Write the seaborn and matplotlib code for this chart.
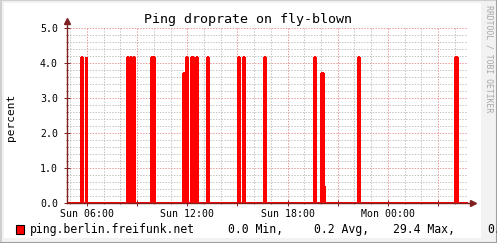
import matplotlib
matplotlib.use("Agg")
import matplotlib.pyplot as plt
import seaborn as sns
import pandas as pd
from matplotlib.patches import Rectangle
from matplotlib.lines import Line2D
from matplotlib.ticker import FixedLocator, MultipleLocator

sns.set_theme(style="white")
plt.rcParams['font.family'] = ['DejaVu Sans Mono', 'DejaVu Sans']

# ---------------- data ----------------
title = "Ping droprate on fly-blown"
y_label = "percent"
series_name = "ping.berlin.freifunk.net"
legend_stats = ["0.0 Min,", "0.2 Avg,", "29.4 Max,", "0."]
watermark = "RRDTOOL / TOBI OETIKER"

x_start = "Sun 04:48"
x_end = "Mon 04:48"
x_major_times = ["Sun 06:00", "Sun 09:00", "Sun 12:00", "Sun 15:00",
                 "Sun 18:00", "Sun 21:00", "Mon 00:00", "Mon 03:00"]
x_tick_labels = ["Sun 06:00", "Sun 12:00", "Sun 18:00", "Mon 00:00"]
y_ticks = [0.0, 1.0, 2.0, 3.0, 4.0, 5.0]
y_tick_labels = ["0.0", "1.0", "2.0", "3.0", "4.0", "5.0"]

# drop-rate spikes: rise time, fall time, peak, residual level, end of residual
spike_rise = ["Sun 05:37", "Sun 05:55", "Sun 08:22", "Sun 08:33", "Sun 08:44",
              "Sun 09:51", "Sun 11:44", "Sun 11:55", "Sun 12:13", "Sun 12:31",
              "Sun 13:10", "Sun 15:02", "Sun 15:20", "Sun 16:35", "Sun 19:35",
              "Sun 20:01", "Sun 22:14", "Mon 04:03"]
spike_fall = ["Sun 05:43", "Sun 05:58", "Sun 08:26", "Sun 08:37", "Sun 08:47",
              "Sun 10:02", "Sun 11:47", "Sun 11:58", "Sun 12:20", "Sun 12:34",
              "Sun 13:14", "Sun 15:05", "Sun 15:23", "Sun 16:39", "Sun 19:39",
              "Sun 20:07", "Sun 22:17", "Mon 04:07"]
spike_peak = [4.17, 4.17, 4.17, 4.17, 4.17,
              4.17, 3.70, 4.17, 4.17, 4.17,
              4.17, 4.17, 4.17, 4.17, 4.17,
              3.70, 4.17, 4.17]
spike_tail = [0, 0, 0, 0, 0,
              0, 0.5, 0, 0, 0,
              0, 0, 0, 0, 0,
              0.5, 0, 0]
spike_tail_end = ["Sun 05:43", "Sun 05:58", "Sun 08:26", "Sun 08:37", "Sun 08:47",
                  "Sun 10:02", "Sun 11:51", "Sun 11:58", "Sun 12:20", "Sun 12:34",
                  "Sun 13:14", "Sun 15:05", "Sun 15:23", "Sun 16:39", "Sun 19:39",
                  "Sun 20:10", "Sun 22:17", "Mon 04:07"]


def to_hours(s):
    day, hm = s.split()
    h, m = hm.split(":")
    return (0 if day == "Sun" else 24) + int(h) + int(m) / 60.0


# build the step outline of the series
xs, ys = [to_hours(x_start)], [0.0]
for r, f, p, t, te in zip(spike_rise, spike_fall, spike_peak, spike_tail, spike_tail_end):
    xs += [to_hours(r), to_hours(r), to_hours(f), to_hours(f), to_hours(te), to_hours(te)]
    ys += [0.0, p, p, t, t, 0.0]
xs.append(to_hours(x_end))
ys.append(0.0)
df = pd.DataFrame({"time": xs, "percent": ys})

# ---------------- figure ----------------
W, H = 497, 243
fig = plt.figure(figsize=(W / 100, H / 100), dpi=100)
fig.patch.set_facecolor("#F2F2F2")


def px(x, y):
    return x / W, 1 - y / H


# white background and 3D shade border
fig.patches.append(Rectangle((4 / W, 1 - 238 / H), 477 / W, 235 / H,
                             transform=fig.transFigure, facecolor="white",
                             edgecolor="none", zorder=-5))
fig.lines.append(Line2D([0.5 / W, 0.5 / W], [0, 1], transform=fig.transFigure,
                        color="#CFCFCF", lw=1.5, zorder=-4))
fig.lines.append(Line2D([0, 1], [1 - 0.5 / H, 1 - 0.5 / H], transform=fig.transFigure,
                        color="#CFCFCF", lw=1.5, zorder=-4))
fig.lines.append(Line2D([1 - 0.5 / W, 1 - 0.5 / W], [0, 1], transform=fig.transFigure,
                        color="#9E9E9E", lw=1.5, zorder=-4))
fig.lines.append(Line2D([0, 1], [0.5 / H, 0.5 / H], transform=fig.transFigure,
                        color="#9E9E9E", lw=1.5, zorder=-4))

ax = fig.add_axes([67 / W, 40 / H, 401 / W, 175 / H])
ax.set_zorder(5)
ax.set_facecolor("none")
ax.patch.set_alpha(0)

axis_col = "#7F1F1F"
minor_col = "#C4C4C4"
major_col = "#E89A9A"

sns.lineplot(data=df, x="time", y="percent", ax=ax, sort=False, estimator=None,
             color="#FF0000", lw=0.75, antialiased=False, zorder=3)

ax.set_xlim(to_hours(x_start), to_hours(x_end))
ax.set_ylim(0, 5)

major_x = [to_hours(t) for t in x_major_times]
ax.xaxis.set_major_locator(FixedLocator(major_x))
ax.set_xticklabels([t if t in x_tick_labels else "" for t in x_major_times])
ax.xaxis.set_minor_locator(MultipleLocator(1))
ax.yaxis.set_major_locator(FixedLocator(y_ticks))
ax.set_yticklabels(y_tick_labels)
ax.yaxis.set_minor_locator(MultipleLocator(0.2))

ax.grid(which="minor", color=minor_col, lw=0.72, linestyle=(0, (1.4, 1.4)), zorder=1)
ax.grid(which="major", color=major_col, lw=0.72, linestyle=(0, (1.4, 1.4)), zorder=1)
ax.set_axisbelow(True)

for s in ["top", "right"]:
    ax.spines[s].set_visible(False)
for s in ["left", "bottom"]:
    ax.spines[s].set_color(axis_col)
    ax.spines[s].set_linewidth(1.0)
    ax.spines[s].set_zorder(5)

ax.tick_params(axis="both", which="major", direction="inout", length=5, width=0.7,
               color=axis_col, labelsize=7.1, labelcolor="black")
ax.tick_params(axis="both", which="minor", direction="inout", length=2, width=0.5,
               color=axis_col)
ax.tick_params(axis="x", which="major", pad=2)
ax.tick_params(axis="y", which="major", pad=4)
ax.tick_params(bottom=True, left=True, which="both")

ax.set_xlabel("")
ax.set_ylabel("")

# arrows
ax.plot([0, 0], [1, 1.04], transform=ax.transAxes, color=axis_col, lw=1.0, clip_on=False)
ax.plot([0], [1.04], transform=ax.transAxes, marker="^", ms=5, color=axis_col,
        clip_on=False, mec=axis_col)
ax.plot([1, 1.012], [0, 0], transform=ax.transAxes, color=axis_col, lw=1.0, clip_on=False)
ax.plot([1.012], [0], transform=ax.transAxes, marker=">", ms=5, color=axis_col,
        clip_on=False, mec=axis_col)

# texts
fig.text(*px(248, 19), title, ha="center", va="center", fontsize=9.6, color="black")
fig.text(*px(11, 117), y_label, ha="center", va="center", rotation=90,
         fontsize=8, color="black")
fig.text(*px(489, 5), watermark, ha="center", va="top", rotation=270,
         fontsize=5.9, color="#A8A8A8")

fig.patches.append(Rectangle(px(15.5, 234), 8.5 / W, 9 / H, transform=fig.transFigure,
                             facecolor="#FF0000", edgecolor="black", lw=0.8, zorder=3))
fig.text(*px(30, 229), series_name, ha="left", va="center", fontsize=8.3, color="black")
for xpos, s in zip([228, 314, 393, 487], legend_stats):
    fig.text(*px(xpos, 229), s, ha="left", va="center", fontsize=8.3, color="black")

fig.savefig("out.png", dpi=100, facecolor=fig.get_facecolor())
